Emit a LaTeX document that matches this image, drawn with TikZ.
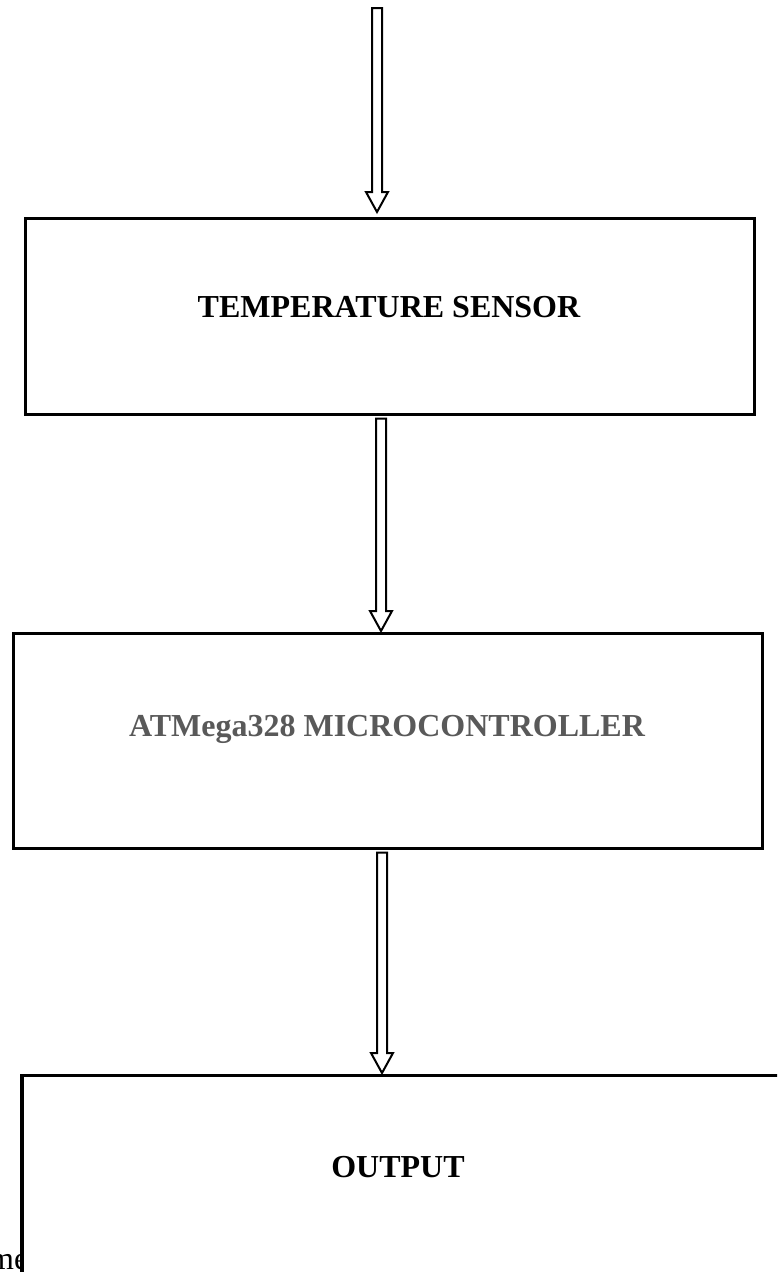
\documentclass[tikz,border=0pt]{standalone}
\usepackage{fontspec}
\setmainfont{Liberation Serif}
\usetikzlibrary{calc}
\definecolor{txtgray}{HTML}{595959}
\tikzset{
  boxnode/.style={draw=black, line width=2.6pt, fill=white, inner sep=0pt, anchor=north west},
  boxlabel/.style={font=\fontsize{32}{38}\selectfont\bfseries, inner sep=0pt},
  blockarrow/.style={draw=black, line width=2pt, fill=white, line join=miter,
    to path={let \p1=(\tikztostart), \p2=(\tikztotarget) in
      (\x1-5pt,\y1) -- (\x1+5pt,\y1) -- (\x1+5pt,\y2+20pt) -- (\x1+11pt,\y2+20pt)
      -- (\x1,\y2) -- (\x1-11pt,\y2+20pt) -- (\x1-5pt,\y2+20pt) -- cycle}}
}
\begin{document}
\begin{tikzpicture}[x=1pt, y=-1pt]
\useasboundingbox (0,0) rectangle (777,1272);
\clip (0,0) rectangle (777,1272);
\fill[white] (0,0) rectangle (777,1272);
% boxes
\node[boxnode, minimum width=729pt, minimum height=196pt] (b1) at (24,217) {};
\node[boxnode, minimum width=749pt, minimum height=215pt] (b2) at (12,632) {};
\node[boxnode, minimum width=900pt, minimum height=400pt] (b3) at (21,1074) {};
% labels
\node[boxlabel] (t1) at (389,307) {TEMPERATURE SENSOR};
\node[boxlabel, text=txtgray] (t2) at (387,729) {ATMega328 MICROCONTROLLER};
\node[boxlabel] (t3) at (398,1167) {OUTPUT};
% stray text at bottom left, cut by the box border
\begin{scope}
\clip (0,1200) rectangle (21,1272);
\node[font=\fontsize{32}{38}\selectfont, inner sep=0pt, anchor=base west] (me) at (-11,1269) {me};
\end{scope}
\draw[line width=2.6pt] (b3.north west) -- (b3.south west);
% arrows
\coordinate (a1s) at (377,8);
\coordinate (a2s) at ($(b1.south -| 381,0)+(0,3)$);
\coordinate (a3s) at ($(b2.south -| 382,0)+(0,3)$);
\draw[blockarrow] (a1s) to ($(a1s |- b1.north)+(0,-5)$);
\draw[blockarrow] (a2s) to ($(a2s |- b2.north)+(0,-1)$);
\draw[blockarrow] (a3s) to ($(a3s |- b3.north)+(0,-1)$);
\end{tikzpicture}
\end{document}
